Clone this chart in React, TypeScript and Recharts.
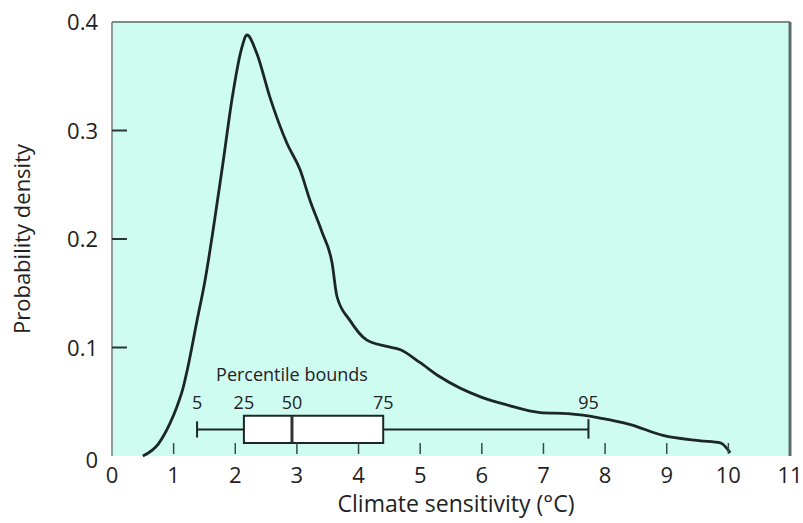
import {
  ComposedChart,
  Line,
  XAxis,
  YAxis,
  CartesianGrid,
  ReferenceArea,
  ReferenceLine,
  ReferenceDot,
} from "recharts";

// climate sensitivity (°C) vs probability density
const sensitivity = [
  0.5, 0.75, 0.94, 1.05, 1.15, 1.22, 1.38, 1.51, 1.64, 1.8, 1.95, 2.1, 2.19, 2.35, 2.56, 2.84,
  3.05, 3.21, 3.41, 3.57, 3.65, 3.86, 4.13, 4.46, 4.68, 5.0, 5.32, 6.0, 6.41, 6.95, 7.4, 7.92,
  8.41, 8.94, 9.55, 9.87, 10.03,
];
const density = [
  0, 0.011, 0.03, 0.045, 0.062, 0.079, 0.125, 0.162, 0.208, 0.27, 0.33, 0.375, 0.388, 0.371,
  0.331, 0.288, 0.264, 0.236, 0.206, 0.178, 0.147, 0.125, 0.107, 0.101, 0.098, 0.086, 0.073,
  0.054, 0.047, 0.04, 0.039, 0.035, 0.029, 0.019, 0.014, 0.012, 0.003,
];

const percentiles = ["5", "25", "50", "75", "95"];
const percentileBounds = [1.38, 2.14, 2.92, 4.4, 7.73];

const xTicks = [0, 1, 2, 3, 4, 5, 6, 7, 8, 9, 10, 11];
const yTicks = [0, 0.1, 0.2, 0.3, 0.4];

const data = sensitivity.map((x, i) => ({ x, y: density[i] }));

const FONT = "'Open Sans', sans-serif";
const INK = "#1c2626";

const BOX_LO = 0.012;
const BOX_HI = 0.037;
const WHISK = 0.0245;

function XTick(props: any) {
  const { x, y, payload } = props;
  const v = payload.value;
  return (
    <g>
      {v > 0 && v < 11 && (
        <line x1={x} x2={x} y1={y - 13} y2={y - 2} stroke="#3a4848" strokeWidth={1.5} />
      )}
      <text x={x} y={y + 27} textAnchor="middle" fontSize={22} fontFamily={FONT} fill="#222">
        {v}
      </text>
    </g>
  );
}

function YTick(props: any) {
  const { x, y, payload } = props;
  const v = payload.value;
  return (
    <g>
      {v > 0 && v < 0.4 && (
        <line x1={x} x2={x + 15} y1={y} y2={y} stroke="#2a3636" strokeWidth={2} />
      )}
      <text
        x={x - 14}
        y={v === 0 ? y + 12 : y + 8}
        textAnchor="end"
        fontSize={22}
        fontFamily={FONT}
        fill="#222"
      >
        {v === 0 ? "0" : v.toFixed(1)}
      </text>
    </g>
  );
}

export default function App() {
  return (
    <div style={{ position: "absolute", left: 0, top: 0, background: "#fff" }}>
      <ComposedChart
        width={803}
        height={523}
        data={data}
        margin={{ top: 22, right: 13, left: 52, bottom: 37 }}
      >
        <CartesianGrid fill="#cffcf0" horizontal={false} vertical={false} />
        <XAxis
          type="number"
          dataKey="x"
          domain={[0, 11]}
          ticks={xTicks}
          axisLine={false}
          tickLine={false}
          tickSize={0}
          tickMargin={0}
          height={30}
          tick={<XTick />}
          interval={0}
          label={({ viewBox }: any) => (
            <text
              x={viewBox.x + viewBox.width / 2 + 5}
              y={512}
              textAnchor="middle"
              fontSize={23}
              fontFamily={FONT}
              fill="#222"
            >
              Climate sensitivity (°C)
            </text>
          )}
        />
        <YAxis
          type="number"
          domain={[0, 0.4]}
          ticks={yTicks}
          width={60}
          axisLine={false}
          tickLine={false}
          tickSize={0}
          tickMargin={0}
          tick={<YTick />}
          interval={0}
          label={({ viewBox }: any) => (
            <text
              x={21}
              y={viewBox.y + viewBox.height / 2}
              transform={`rotate(-90 21 ${viewBox.y + viewBox.height / 2})`}
              textAnchor="middle"
              dominantBaseline="central"
              fontSize={22}
              fontFamily={FONT}
              fill="#222"
            >
              Probability density
            </text>
          )}
        />

        {/* plot frame */}
        <ReferenceLine x={0} stroke="#8d9d9a" strokeWidth={2} />
        <ReferenceLine y={0.4} stroke="#7c8c89" strokeWidth={2} />
        <ReferenceLine x={11} stroke="#5c6c69" strokeWidth={3} />

        {/* percentile box plot */}
        <ReferenceLine
          segment={[
            { x: percentileBounds[0], y: WHISK },
            { x: percentileBounds[1], y: WHISK },
          ]}
          stroke={INK}
          strokeWidth={2}
        />
        <ReferenceLine
          segment={[
            { x: percentileBounds[3], y: WHISK },
            { x: percentileBounds[4], y: WHISK },
          ]}
          stroke={INK}
          strokeWidth={2}
        />
        <ReferenceLine
          segment={[
            { x: percentileBounds[0], y: 0.017 },
            { x: percentileBounds[0], y: 0.032 },
          ]}
          stroke={INK}
          strokeWidth={2}
        />
        <ReferenceLine
          segment={[
            { x: percentileBounds[4], y: 0.016 },
            { x: percentileBounds[4], y: 0.034 },
          ]}
          stroke={INK}
          strokeWidth={2}
        />
        <ReferenceArea
          x1={percentileBounds[1]}
          x2={percentileBounds[3]}
          y1={BOX_LO}
          y2={BOX_HI}
          fill="#ffffff"
          fillOpacity={1}
          stroke={INK}
          strokeWidth={2}
        />
        <ReferenceLine
          segment={[
            { x: percentileBounds[2], y: BOX_LO },
            { x: percentileBounds[2], y: BOX_HI },
          ]}
          stroke="#333"
          strokeWidth={3}
        />
        {percentiles.map((p, i) => (
          <ReferenceDot
            key={p}
            x={percentileBounds[i]}
            y={0.0488}
            r={0}
            fill="none"
            stroke="none"
            label={{
              value: p,
              position: "center",
              fontSize: 18,
              fontFamily: FONT,
              fill: "#222",
            }}
          />
        ))}
        <ReferenceDot
          x={2.92}
          y={0.0747}
          r={0}
          fill="none"
          stroke="none"
          label={{
            value: "Percentile bounds",
            position: "center",
            fontSize: 18,
            fontFamily: FONT,
            fill: "#222",
          }}
        />

        <Line
          type="monotone"
          dataKey="y"
          stroke={INK}
          strokeWidth={2.8}
          dot={false}
          isAnimationActive={false}
        />
      </ComposedChart>
    </div>
  );
}
